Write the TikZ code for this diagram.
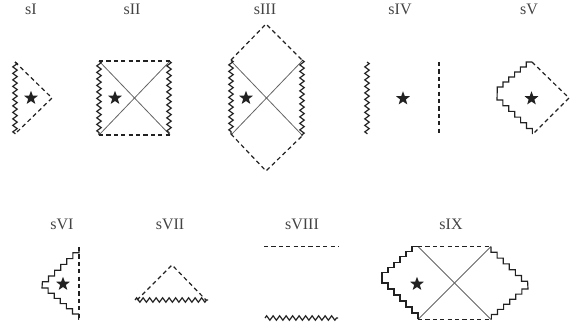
\documentclass[tikz,border=0pt]{standalone}
\usepackage{fontspec}
\setmainfont{Liberation Serif}
\usetikzlibrary{shapes.geometric,decorations.pathmorphing}
\definecolor{ink}{gray}{0.13}
\tikzset{
  x=1pt,y=-1pt,
  zig/.style={draw=ink,line width=1.2pt,decorate,decoration={zigzag,segment length=6.5pt,amplitude=2.2pt}},
  dashline/.style={draw=ink,line width=1.2pt,dash pattern=on 4.2pt off 3.2pt},
  thinline/.style={draw=ink!70,line width=0.8pt},
  stairs/.style={draw=ink,line width=1.15pt,miter limit=10},
  starmark/.style={star,star points=5,star point ratio=2.4,fill=ink,draw=none,inner sep=0pt,minimum size=14.5pt},
  lab/.style={text=ink!85,font=\fontsize{16}{18}\selectfont,inner sep=0pt}
}
\begin{document}
\begin{tikzpicture}
\useasboundingbox (0,0) rectangle (581,333);
% labels
\node[lab] (l1) at (31,9) {sI};
\node[lab] (l2) at (132,9) {sII};
\node[lab] (l3) at (265,9) {sIII};
\node[lab] (l4) at (400,9) {sIV};
\node[lab] (l5) at (529,9) {sV};
\node[lab] (l6) at (62,224) {sVI};
\node[lab] (l7) at (170,224) {sVII};
\node[lab] (l8) at (302,224) {sVIII};
\node[lab] (l9) at (451,224) {sIX};
% stars
\node[starmark] (s1) at (31,98) {};
\node[starmark] (s2) at (115,98) {};
\node[starmark] (s3) at (246,98) {};
\node[starmark] (s4) at (403,98.5) {};
\node[starmark] (s5) at (531.5,98.5) {};
\node[starmark] (s6) at (63,284) {};
\node[starmark] (s9) at (417,284) {};
% sI
\draw[zig] (15,62) -- (15,134);
\draw[dashline] (15,62) -- (52,98) -- (15,134);
% sII
\draw[thinline] (99,61) -- (170,135);
\draw[thinline] (99,135) -- (170,61);
\draw[zig] (99,61) -- (99,135);
\draw[zig] (169,61) -- (169,135);
\draw[dashline] (99,61) -- (170,61);
\draw[dashline] (99,135) -- (170,135);
% sIII
\draw[thinline] (231,61) -- (302,135);
\draw[thinline] (231,135) -- (302,61);
\draw[zig] (231,60) -- (231,134);
\draw[zig] (302,60) -- (302,136);
\draw[dashline] (231,60) -- (266,24) -- (302,60);
\draw[dashline] (231,134) -- (266,171) -- (302,136);
% sIV
\draw[zig] (367,62) -- (367,134);
\draw[dashline] (439,62) -- (439,134);
% sV
\draw[dashline] (532,62) -- (569,98) -- (533,134);
\draw[stairs] (532,62) foreach \i in {1,...,6} { -- ++(-5.8,0) -- ++(0,5) } -- (497,100)
  foreach \i in {1,...,6} { -- ++(5.9,0) -- ++(0,5.7) };
% sVI
\draw[dashline] (79,247) -- (79,319);
\draw[stairs] (79,247) foreach \i in {1,...,6} { -- ++(0,5.8) -- ++(-6.1,0) } -- (42,288)
  foreach \i in {1,...,6} { -- ++(6.1,0) -- ++(0,5.2) } -- (79,319.5);
% sVII
\draw[dashline] (137,300) -- (172,265) -- (206,300);
\draw[zig] (135,300) -- (208,300);
% sVIII
\draw[dashline] (264,246.5) -- (339,246.5);
\draw[zig] (265,318) -- (338,318);
% sIX
\draw[thinline] (418,246.5) -- (491,319.5);
\draw[thinline] (418,319.5) -- (491,246.5);
\draw[dashline] (418,246.5) -- (491,246.5);
\draw[dashline] (418,319.5) -- (491,319.5);
\draw[stairs] (418,246.5) foreach \i in {1,...,6} { -- ++(-6,0) -- ++(0,5.2) } -- (382,283)
  foreach \i in {1,...,6} { -- ++(6,0) -- ++(0,6) };
\draw[stairs] (491,246.5) foreach \i in {1,...,6} { -- ++(0,5.8) -- ++(6.1,0) } -- (528,289)
  foreach \i in {1,...,6} { -- ++(-6.1,0) -- ++(0,5.1) };
\end{tikzpicture}
\end{document}
